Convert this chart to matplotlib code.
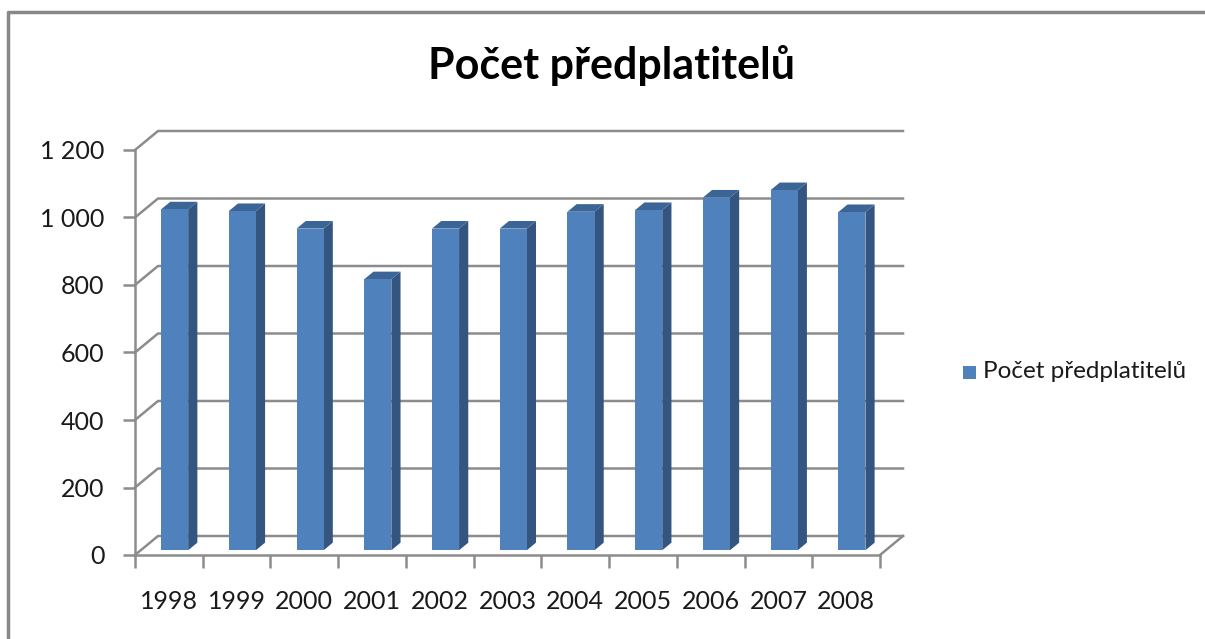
import matplotlib
matplotlib.use("Agg")
import matplotlib.pyplot as plt
from matplotlib.patches import Polygon, Rectangle
from matplotlib.lines import Line2D

years = ["1998", "1999", "2000", "2001", "2002", "2003", "2004", "2005", "2006", "2007", "2008"]
values = [1010, 1005, 953, 803, 953, 953, 1003, 1008, 1045, 1067, 1002]
series_name = "Počet předplatitelů"
title = "Počet předplatitelů"
yticks = [0, 200, 400, 600, 800, 1000, 1200]
ytick_labels = ["0", "200", "400", "600", "800", "1\u00a0000", "1\u00a0200"]

W, H = 1205, 639
plt.rcParams['font.family'] = ['Lato', 'DejaVu Sans']

fig = plt.figure(figsize=(W / 100, H / 100), dpi=100)
# axes rect in pixels: front plane of the 3D box
x0, x1 = 135, 880
y0, y1 = 555, 150
ax = fig.add_axes([x0 / W, 1 - y0 / H, (x1 - x0) / W, (y0 - y1) / H])
n = len(years)
ymax = 1200
ax.set_xlim(0, n)
ax.set_ylim(0, ymax)

# depth offsets (pixels -> data units)
px_per_x = (x1 - x0) / n
px_per_y = (y0 - y1) / ymax
DX = 23 / px_per_x
DY = 19 / px_per_y

grid_c = "#8c8c8c"
lw = 1.8

# back wall gridlines + left wall diagonals
for v in yticks:
    ax.add_line(Line2D([0, DX, n + DX], [v, v + DY, v + DY], color=grid_c, lw=lw,
                       clip_on=False, zorder=1))
# floor right edge
ax.add_line(Line2D([n, n + DX], [0, DY], color=grid_c, lw=lw, clip_on=False, zorder=1))

# bars
front_c = "#4f81bd"
side_c = "#34557f"
top_c = "#3c6597"
f0, f1 = 0.25, 0.65
bw = 0.4
for i, v in enumerate(values):
    cx = i + 0.5
    ox0, oy0 = DX * f0, DY * f0
    ox1, oy1 = DX * f1, DY * f1
    xl = cx - bw / 2 + ox0
    xr = cx + bw / 2 + ox0
    yb = oy0
    yt = v + oy0
    ddx, ddy = ox1 - ox0, oy1 - oy0
    side = Polygon([[xr, yb], [xr + ddx, yb + ddy], [xr + ddx, yt + ddy], [xr, yt]],
                   closed=True, fc=side_c, ec="none", zorder=3, clip_on=False)
    top = Polygon([[xl, yt], [xr, yt], [xr + ddx, yt + ddy], [xl + ddx, yt + ddy]],
                  closed=True, fc=top_c, ec="none", zorder=3, clip_on=False)
    front = Rectangle((xl, yb), bw, v, fc=front_c, ec="none", zorder=4, clip_on=False)
    ax.add_patch(side)
    ax.add_patch(top)
    ax.add_patch(front)

# axes styling
for s in ["top", "right"]:
    ax.spines[s].set_visible(False)
for s in ["left", "bottom"]:
    ax.spines[s].set_color(grid_c)
    ax.spines[s].set_linewidth(lw)
    ax.spines[s].set_zorder(5)
ax.set_yticks(yticks)
ax.set_yticklabels(ytick_labels)
ax.set_xticks(range(n + 1))
ax.set_xticklabels([])
ax.set_xticks([i + 0.5 for i in range(n)], minor=True)
ax.set_xticklabels(years, minor=True)
ax.tick_params(axis="x", which="major", length=9, width=lw, color=grid_c, direction="out")
ax.tick_params(axis="x", which="minor", length=0, pad=25, labelsize=18, labelcolor="#1a1a1a")
ax.tick_params(axis="y", length=9, width=lw, color=grid_c, direction="out", pad=13,
               labelsize=18, labelcolor="#1a1a1a")
ax.set_facecolor("none")

# title
fig.text(612 / W, 1 - 65 / H, title, ha="center", va="center", fontsize=31,
         fontweight="bold", color="#000000")

# legend
fig.patches.append(Rectangle((963 / W, 1 - 379 / H), 13 / W, 13 / H, fc=front_c, ec="none",
                             transform=fig.transFigure))
fig.text(983 / W, 1 - 372 / H, series_name, ha="left", va="center", fontsize=17.5,
         color="#1a1a1a")

# chart border (top and left visible)
fig.add_artist(Line2D([8 / W, 8 / W, 1.0], [0, 1 - 12 / H, 1 - 12 / H],
                      transform=fig.transFigure, color="#888888", lw=2.5))

fig.savefig("out.png", dpi=100)
